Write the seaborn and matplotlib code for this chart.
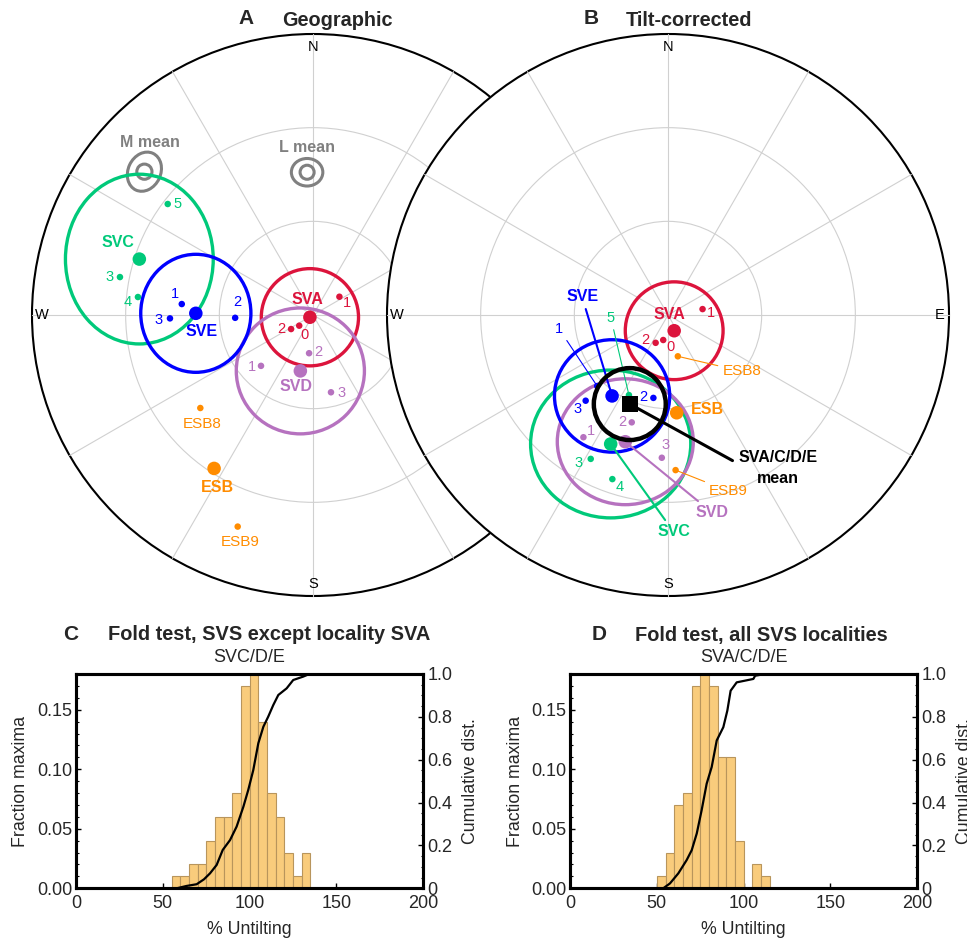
import numpy as np
import pandas as pd
import matplotlib
matplotlib.use("Agg")
import matplotlib.pyplot as plt
from matplotlib.patches import Circle, Ellipse
from matplotlib.ticker import MultipleLocator
import seaborn as sns

sns.set_theme(style="white")
plt.rcParams["font.family"] = ["Liberation Sans", "DejaVu Sans"]

# ---------------------------------------------------------------- data
# Stereonet positions: east / north, in units of the primitive-circle radius
geo_site_group = ["SVA", "SVA", "SVA", "SVC", "SVC", "SVC", "SVD", "SVD", "SVD",
                  "SVE", "SVE", "SVE", "ESB", "ESB"]
geo_site_label = ["1", "2", "0", "5", "3", "4", "2", "1", "3", "1", "3", "2", "ESB8", "ESB9"]
geo_site_east = [0.094, -0.078, -0.049, -0.517, -0.687, -0.623, -0.014, -0.185, 0.064,
                 -0.467, -0.509, -0.277, -0.401, -0.268]
geo_site_north = [0.065, -0.050, -0.038, 0.395, 0.135, 0.064, -0.136, -0.181, -0.275,
                  0.039, -0.012, -0.010, -0.331, -0.753]

geo_mean_group = ["SVA", "SVC", "SVD", "SVE", "ESB"]
geo_mean_east = [-0.011, -0.618, -0.045, -0.417, -0.352]
geo_mean_north = [-0.008, 0.199, -0.199, 0.006, -0.546]
geo_conf_east = [0.173, 0.263, 0.228, 0.196, 0.0]
geo_conf_north = [0.173, 0.302, 0.224, 0.210, 0.0]

ref_names = ["M mean", "L mean"]
ref_east = [-0.600, -0.021]
ref_north = [0.510, 0.508]
ref_inner = [0.027, 0.025]
ref_outer_a = [0.072, 0.056]
ref_outer_b = [0.058, 0.049]
ref_outer_angle = [65, 0]

tilt_site_group = geo_site_group
tilt_site_label = geo_site_label
tilt_site_east = [0.123, -0.044, -0.017, -0.139, -0.275, -0.198, -0.129, -0.301, -0.022,
                  -0.252, -0.293, -0.052, 0.035, 0.027]
tilt_site_north = [0.021, -0.099, -0.089, -0.285, -0.512, -0.584, -0.382, -0.435, -0.508,
                   -0.253, -0.305, -0.295, -0.147, -0.552]

tilt_mean_group = ["SVA", "SVC", "SVD", "SVE", "ESB"]
tilt_mean_east = [0.022, -0.204, -0.152, -0.199, 0.031]
tilt_mean_north = [-0.056, -0.459, -0.451, -0.288, -0.348]
tilt_conf_east = [0.174, 0.285, 0.242, 0.205, 0.0]
tilt_conf_north = [0.174, 0.263, 0.224, 0.200, 0.0]

overall_label = "SVA/C/D/E\nmean"
overall_east = [-0.136]
overall_north = [-0.317]
overall_conf = [0.128]

# Fold tests: 5 %-wide bins of % untilting
c_bin_start = [55, 60, 65, 70, 75, 80, 85, 90, 95, 100, 105, 110, 115, 120, 125, 130]
c_fraction = [0.01, 0.01, 0.02, 0.02, 0.04, 0.06, 0.06, 0.08, 0.17, 0.18, 0.14, 0.08,
              0.06, 0.03, 0.01, 0.03]
c_cdf_x = [0, 58, 63.7, 69.5, 73.7, 77.2, 81, 84.5, 88.7, 92.5, 96.4, 99.2, 102.1, 105,
           107.9, 110.7, 113.6, 116.5, 121.3, 125.1, 130.9, 134.4, 200]
c_cdf_y = [0, 0, 0.011, 0.019, 0.042, 0.07, 0.109, 0.179, 0.225, 0.288, 0.381, 0.459,
           0.552, 0.677, 0.754, 0.801, 0.855, 0.902, 0.933, 0.972, 0.988, 1.0, 1.0]

d_bin_start = [50, 55, 60, 65, 70, 75, 80, 85, 90, 95, 100, 105, 110]
d_fraction = [0.01, 0.03, 0.07, 0.08, 0.17, 0.18, 0.17, 0.11, 0.11, 0.04, 0.0, 0.02, 0.01]
d_cdf_x = [0, 53.7, 57.6, 62.4, 67.2, 70.1, 73, 75.8, 78.7, 81.6, 84.5, 88.3, 90.6, 92.5,
           96, 105.6, 106.6, 112.3, 200]
d_cdf_y = [0, 0, 0.023, 0.07, 0.132, 0.178, 0.256, 0.364, 0.488, 0.566, 0.69, 0.752,
           0.829, 0.922, 0.961, 0.977, 0.992, 1.0, 1.0]

# ---------------------------------------------------------------- styles
COL = {"SVA": "#DC143C", "SVC": "#00C97A", "SVD": "#B672BF", "SVE": "#0000FF",
       "ESB": "#FF8C00", "ref": "#808080"}
GRID = "#D0D0D0"

# label offsets in pixels (right, up); last flag = leader line
geo_site_off = [(8, -6), (-10, 0), (5, -9), (10, 0), (-10, 0), (-10, -5), (9, 1), (-9, -1),
                (11, -1), (-7, 10), (-11, -2), (2, 16), (2, -16), (2, -15)]
geo_mean_off = [(-3, 18), (-21, 17), (-4, -16), (6, -18), (3, -19)]
ref_off = [(6, 29), (0, 25)]
tilt_site_off = [(8, -4, 0), (-10, 3, 0), (7, -7, 0), (-18, 77, 1), (-12, -4, 0), (7, -8, 0),
                 (-9, 0, 0), (8, 6, 0), (4, 13, 0), (-38, 57, 1), (-8, -8, 0), (-10, 1, 0),
                 (64, -15, 1), (53, -21, 1)]
tilt_mean_off = [(-5, 16, 0), (63, -88, 1), (87, -71, 1), (-30, 99, 1), (31, 3, 0)]

W, H = 967, 939
fig = plt.figure(figsize=(W / 100, H / 100), dpi=100)


def px_axes(x0, y0, w, h):
    return fig.add_axes([x0 / W, 1 - (y0 + h) / H, w / W, h / H])


R = 281
LIM = 1.1
half = R * LIM
axA = px_axes(313 - half, 315 - half, 2 * half, 2 * half)
axB = px_axes(668 - half, 315 - half, 2 * half, 2 * half)
axB.set_zorder(axA.get_zorder() + 1)


def draw_net(ax):
    ax.set_xlim(-LIM, LIM)
    ax.set_ylim(-LIM, LIM)
    ax.axis("off")
    ax.patch.set_alpha(0)
    ax.add_patch(Circle((0, 0), 1, facecolor="white", edgecolor="black", lw=1.5, zorder=1))
    for r in (1 / 3, 2 / 3):
        ax.add_patch(Circle((0, 0), r, fill=False, edgecolor=GRID, lw=0.8, zorder=2))
    for a in range(0, 180, 30):
        t = np.deg2rad(a)
        ax.plot([-np.sin(t), np.sin(t)], [-np.cos(t), np.cos(t)], color=GRID, lw=0.8, zorder=2)
    kw = dict(ha="center", va="center", fontsize=10.5, color="black", zorder=3)
    ax.text(0, 0.955, "N", **kw)
    ax.text(0, -0.957, "S", **kw)
    ax.text(-0.964, 0, "W", **kw)
    ax.text(0.968, 0, "E", **kw)


def draw_sets(ax, s_grp, s_lab, s_e, s_n, s_off, m_grp, m_e, m_n, c_e, c_n, m_off):
    for g, e, n, ce, cn in zip(m_grp, m_e, m_n, c_e, c_n):
        if ce > 0:
            ax.add_patch(Ellipse((e, n), 2 * ce, 2 * cn, fill=False, edgecolor=COL[g],
                                 lw=2.4, zorder=4))
    sites = pd.DataFrame({"e": s_e, "n": s_n, "g": s_grp})
    for g, sub in sites.groupby("g"):
        sns.scatterplot(data=sub, x="e", y="n", color=COL[g], s=22, edgecolor="none",
                        ax=ax, legend=False, zorder=5)
    means = pd.DataFrame({"e": m_e, "n": m_n, "g": m_grp})
    for g, sub in means.groupby("g"):
        sns.scatterplot(data=sub, x="e", y="n", color=COL[g], s=95, edgecolor="none",
                        ax=ax, legend=False, zorder=6)
    for g, lab, e, n, off in zip(s_grp, s_lab, s_e, s_n, s_off):
        leader = len(off) > 2 and off[2]
        fs = 11 if lab.startswith("ESB") else 10.5
        ap = dict(arrowstyle="-", color=COL[g], lw=0.8, shrinkA=1, shrinkB=0) if leader else None
        ax.annotate(lab, xy=(e, n), xytext=(off[0], off[1]), textcoords="offset pixels",
                    ha="center", va="center", color=COL[g], fontsize=fs, zorder=7,
                    arrowprops=ap)
    for g, e, n, off in zip(m_grp, m_e, m_n, m_off):
        leader = len(off) > 2 and off[2]
        ap = dict(arrowstyle="-", color=COL[g], lw=1.5, shrinkA=1, shrinkB=0) if leader else None
        ax.annotate(g, xy=(e, n), xytext=(off[0], off[1]), textcoords="offset pixels",
                    ha="center", va="center", color=COL[g], fontsize=11.5,
                    fontweight="bold", zorder=7, arrowprops=ap)


# ---- panel A
draw_net(axA)
for name, e, n, ri, ra, rb, ang, off in zip(ref_names, ref_east, ref_north, ref_inner,
                                            ref_outer_a, ref_outer_b, ref_outer_angle, ref_off):
    axA.add_patch(Circle((e, n), ri, fill=False, edgecolor=COL["ref"], lw=2.2, zorder=4))
    axA.add_patch(Ellipse((e, n), 2 * ra, 2 * rb, angle=ang, fill=False,
                          edgecolor=COL["ref"], lw=2.2, zorder=4))
    axA.annotate(name, xy=(e, n), xytext=off, textcoords="offset pixels", ha="center",
                 va="center", color=COL["ref"], fontsize=11.5, fontweight="bold", zorder=7)
draw_sets(axA, geo_site_group, geo_site_label, geo_site_east, geo_site_north, geo_site_off,
          geo_mean_group, geo_mean_east, geo_mean_north, geo_conf_east, geo_conf_north,
          geo_mean_off)

# ---- panel B
draw_net(axB)
draw_sets(axB, tilt_site_group, tilt_site_label, tilt_site_east, tilt_site_north,
          tilt_site_off, tilt_mean_group, tilt_mean_east, tilt_mean_north, tilt_conf_east,
          tilt_conf_north, tilt_mean_off)
axB.add_patch(Circle((overall_east[0], overall_north[0]), overall_conf[0], fill=False,
                     edgecolor="black", lw=3.2, zorder=8))
sns.scatterplot(x=overall_east, y=overall_north, marker="s", s=135, color="black",
                edgecolor="none", ax=axB, legend=False, zorder=9)
axB.annotate(overall_label, xy=(overall_east[0], overall_north[0]), xytext=(148, -64),
             textcoords="offset pixels", ha="center", va="center", fontsize=11.5,
             fontweight="bold", color="black", linespacing=1.5, zorder=9,
             arrowprops=dict(arrowstyle="-", color="black", lw=2.2, shrinkA=2, shrinkB=0,
                             relpos=(0.0, 0.62)))

# titles for A and B
fig.text(246 / W, 1 - 18 / H, "A", ha="center", va="center", fontsize=15, fontweight="bold")
fig.text(337 / W, 1 - 21 / H, "Geographic", ha="center", va="center", fontsize=14.3,
         fontweight="bold")
fig.text(591 / W, 1 - 19 / H, "B", ha="center", va="center", fontsize=15, fontweight="bold")
fig.text(689 / W, 1 - 21 / H, "Tilt-corrected", ha="center", va="center", fontsize=14.3,
         fontweight="bold")


# ---------------------------------------------------------------- fold tests
def draw_hist(x0, y0, w, h, starts, fracs, cx, cy, letter, title, sub, lx, tx, sx):
    ax = px_axes(x0, y0, w, h)
    hist_df = pd.DataFrame({"untilting": [s + 2.5 for s in starts], "fraction": fracs})
    edges = list(starts) + [starts[-1] + 5]
    sns.histplot(data=hist_df, x="untilting", weights="fraction", bins=edges,
                 color="#F9CC7C", edgecolor="#B8955C", linewidth=0.8, alpha=1, ax=ax)
    ax.set_xlim(0, 200)
    ax.set_ylim(0, 0.18)
    ax.set_xlabel("")
    ax.set_ylabel("")
    ax2 = ax.twinx()
    cdf_df = pd.DataFrame({"x": cx, "y": cy})
    sns.lineplot(data=cdf_df, x="x", y="y", ax=ax2, color="black", lw=1.6, estimator=None,
                 sort=False)
    ax2.set_ylim(0, 1)
    ax2.set_xlabel("")
    ax2.set_ylabel("")
    ax.set_xticks([0, 50, 100, 150, 200])
    ax.set_xticklabels(["0", "50", "100", "150", "200"])
    ax.set_yticks([0, 0.05, 0.10, 0.15])
    ax.set_yticklabels(["0.00", "0.05", "0.10", "0.15"])
    ax2.set_yticks([0, 0.2, 0.4, 0.6, 0.8, 1.0])
    ax2.set_yticklabels(["0", "0.2", "0.4", "0.6", "0.8", "1.0"])
    ax.yaxis.set_minor_locator(MultipleLocator(0.01))
    ax2.yaxis.set_minor_locator(MultipleLocator(0.05))
    for a in (ax, ax2):
        a.tick_params(which="major", direction="in", length=3.5, width=1, labelsize=13,
                      pad=2.5, color="black")
        a.tick_params(which="minor", direction="in", length=1.8, width=0.8, color="black")
        for sp in a.spines.values():
            sp.set_visible(True)
            sp.set_linewidth(2.2)
            sp.set_color("black")
    ax.tick_params(axis="x", which="major", bottom=True, pad=5)
    ax.tick_params(axis="y", which="both", left=True)
    ax2.tick_params(axis="y", which="both", right=True, pad=3)
    fig.text(lx / W, 1 - 635 / H, letter, ha="center", va="center", fontsize=15,
             fontweight="bold")
    fig.text(tx / W, 1 - 635 / H, title, ha="center", va="center", fontsize=14.4,
             fontweight="bold")
    fig.text(sx / W, 1 - 657 / H, sub, ha="center", va="center", fontsize=13)
    fig.text((x0 + w / 2) / W, 1 - 930 / H, "% Untilting", ha="center", va="center",
             fontsize=12.8)
    fig.text((x0 - 55) / W, 1 - (y0 + h / 2) / H, "Fraction maxima", ha="center",
             va="center", rotation=90, fontsize=12.8)
    fig.text((x0 + w + 47) / W, 1 - (y0 + h / 2) / H, "Cumulative dist.", ha="center",
             va="center", rotation=90, fontsize=12.8)


draw_hist(76, 674, 347.3, 214.3, c_bin_start, c_fraction, c_cdf_x, c_cdf_y,
          "C", "Fold test, SVS except locality SVA", "SVC/D/E", 71, 269, 249)
draw_hist(570, 674, 347.3, 214.3, d_bin_start, d_fraction, d_cdf_x, d_cdf_y,
          "D", "Fold test, all SVS localities", "SVA/C/D/E", 599, 761, 744)

fig.savefig("out.png", dpi=100)
